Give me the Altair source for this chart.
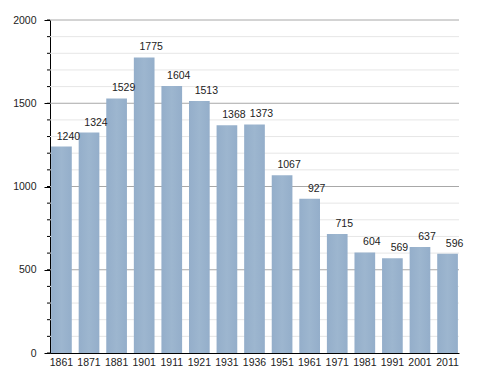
import altair as alt
import pandas as pd

years = ["1861", "1871", "1881", "1901", "1911", "1921", "1931", "1936",
         "1951", "1961", "1971", "1981", "1991", "2001", "2011"]
population = [1240, 1324, 1529, 1775, 1604, 1513, 1368, 1373,
              1067, 927, 715, 604, 569, 637, 596]
major_ticks = [0, 500, 1000, 1500, 2000]
minor_ticks = [v for v in range(100, 2000, 100) if v % 500 != 0]

W, H = 409, 333
FS = 10.5

df = pd.DataFrame({"year": years, "pop": population})
major_df = pd.DataFrame({"v": major_ticks[1:]})
minor_df = pd.DataFrame({"v": minor_ticks})
minor_all_df = pd.DataFrame({"v": list(range(0, 2001, 100))})

yscale = alt.Scale(domain=[0, 2000], nice=False, zero=True)
yaxis = alt.Axis(values=major_ticks, grid=False, tickSize=6, format="d",
                 tickColor="#000000", domainColor="#000000",
                 labelPadding=8, labelFontSize=FS, labelColor="#222222")

minor_grid = alt.Chart(minor_df).mark_rule(color="#e6e6e6", strokeWidth=1).encode(
    y=alt.Y("v:Q", scale=yscale, axis=yaxis, title=None),
    x=alt.value(0), x2=alt.value(W),
)
major_grid = alt.Chart(major_df).mark_rule(color="#a8a8a8", strokeWidth=1).encode(
    y=alt.Y("v:Q", scale=yscale, axis=yaxis, title=None),
    x=alt.value(0), x2=alt.value(W),
)

bar_color = {
    "gradient": "linear", "x1": 0, "x2": 1, "y1": 0, "y2": 0,
    "stops": [
        {"offset": 0, "color": "#94aeca"},
        {"offset": 0.5, "color": "#9db6cf"},
        {"offset": 1, "color": "#94aeca"},
    ],
}

xenc = alt.X("year:N", sort=None, title=None,
             scale=alt.Scale(paddingInner=0.25, paddingOuter=0.04),
             axis=alt.Axis(labelAngle=0, ticks=False, domainColor="#000000",
                           labelPadding=4, labelFontSize=FS, labelColor="#222222"))

bars = alt.Chart(df).mark_bar(color=bar_color).encode(
    x=xenc,
    y=alt.Y("pop:Q", scale=yscale, title=None, axis=yaxis),
)

labels = alt.Chart(df).mark_text(
    align="center", baseline="bottom", dx=7, dy=-5, fontSize=FS, color="#222222"
).encode(
    x=alt.X("year:N", sort=None),
    y=alt.Y("pop:Q", scale=yscale, title=None, axis=yaxis),
    text=alt.Text("pop:Q", format="d"),
)

minor_axis_ticks = alt.Chart(minor_all_df).mark_rule(color="#000000", strokeWidth=1).encode(
    y=alt.Y("v:Q", scale=yscale, title=None, axis=yaxis),
    x=alt.value(-3), x2=alt.value(0),
)

chart = alt.layer(minor_grid, major_grid, bars, labels, minor_axis_ticks).properties(
    width=W, height=H,
    autosize=alt.AutoSizeParams(type="none"),
    padding={"left": 42, "top": 12, "right": 20, "bottom": 20},
).configure(
    font="Liberation Sans",
).configure_view(stroke=None)

chart.save("out.html", embed_options={"renderer": "svg", "actions": False})
